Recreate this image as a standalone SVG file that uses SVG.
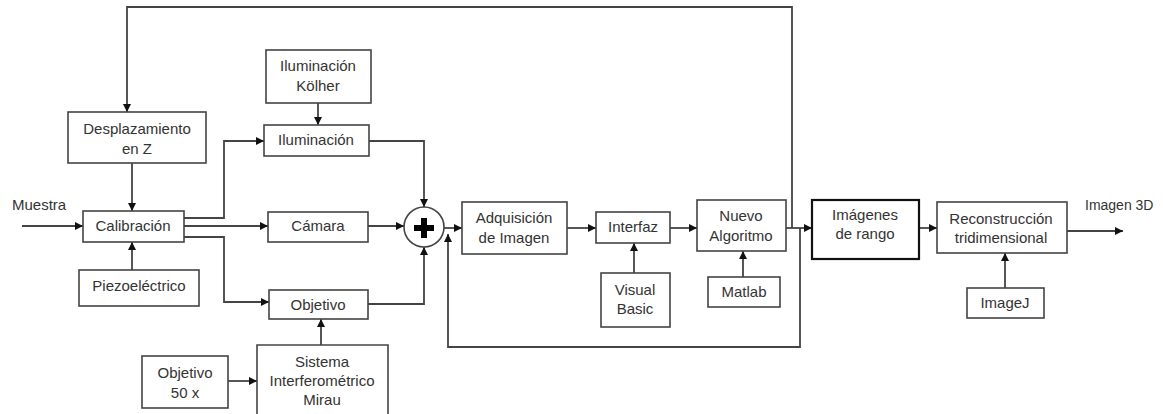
<svg xmlns="http://www.w3.org/2000/svg" width="1163" height="414" viewBox="0 0 1163 414">
<style>
.box{fill:#fff;stroke:#444;stroke-width:1.6}
.bold{fill:#fff;stroke:#111;stroke-width:2.2}
.t{font-family:"Liberation Sans",Arial,sans-serif;font-size:15px;fill:#333;text-anchor:middle}
.ts{font-family:"Liberation Sans",Arial,sans-serif;font-size:15px;fill:#333}
.c{fill:none;stroke:#444;stroke-width:1.8;marker-end:url(#ah)}
</style>
<defs>
<marker id="ah" markerUnits="userSpaceOnUse" markerWidth="9" markerHeight="8" refX="8" refY="4" orient="auto">
<path d="M0,0 L8,4 L0,8 z" fill="#111"/>
</marker>
</defs>
<rect width="1163" height="414" fill="#fff"/>
<g id="connectors">
<path class="c" d="M792,228 V7 H127 V112"/>
<path class="c" d="M132,163 V211"/>
<path class="c" d="M22,226 H83"/>
<path class="c" d="M184,218 H224 V141 H264"/>
<path class="c" d="M184,226 H268"/>
<path class="c" d="M184,237 H224 V302 H269"/>
<path class="c" d="M132,270 V242"/>
<path class="c" d="M318,103 V125"/>
<path class="c" d="M369,141 H424 V207"/>
<path class="c" d="M368,226 H404"/>
<path class="c" d="M368,304 H424 V247"/>
<path class="c" d="M321,345 V319"/>
<path class="c" d="M228,381 H257"/>
<path class="c" d="M444,228 H462"/>
<path class="c" d="M800,228 V347 H448 V234"/>
<path class="c" d="M567,228 H596"/>
<path class="c" d="M670,228 H697"/>
<path class="c" d="M634,273 V243"/>
<path class="c" d="M743,277 V251"/>
<path class="c" d="M786,228 H812"/>
<path class="c" d="M919,228 H937"/>
<path class="c" d="M1067,231 H1123"/>
<path class="c" d="M1005,288 V253"/>
</g>
<g id="muestra"><text class="ts" x="12" y="210">Muestra</text></g>
<g id="imagen3d"><text class="ts" x="1085" y="210" style="font-size:14px">Imagen 3D</text></g>
<g id="desplazamiento"><rect class="box" x="68" y="112" width="138" height="51"/><text class="t" x="137" y="134">Desplazamiento</text><text class="t" x="137" y="154">en Z</text></g>
<g id="kolher"><rect class="box" x="266" y="50" width="105" height="53"/><text class="t" x="318" y="71">Iluminación</text><text class="t" x="318" y="91">Kölher</text></g>
<g id="iluminacion"><rect class="box" x="264" y="125" width="105" height="31"/><text class="t" x="316" y="145">Iluminación</text></g>
<g id="calibracion"><rect class="box" x="83" y="211" width="101" height="31"/><text class="t" x="133" y="231">Calibración</text></g>
<g id="camara"><rect class="box" x="268" y="212" width="100" height="30"/><text class="t" x="318" y="231">Cámara</text></g>
<g id="piezo"><rect class="box" x="79" y="270" width="120" height="36"/><text class="t" x="139" y="291">Piezoeléctrico</text></g>
<g id="objetivo"><rect class="box" x="269" y="290" width="99" height="29"/><text class="t" x="318" y="310">Objetivo</text></g>
<g id="sistema"><path class="box" d="M257,416 V345 H388 V416"/><text class="t" x="322" y="367">Sistema</text><text class="t" x="322" y="386">Interferométrico</text><text class="t" x="322" y="405">Mirau</text></g>
<g id="objetivo50"><rect class="box" x="142" y="356" width="86" height="52"/><text class="t" x="185" y="378">Objetivo</text><text class="t" x="185" y="398">50 x</text></g>
<g id="suma"><circle cx="424" cy="227" r="20" fill="#fff" stroke="#444" stroke-width="1.6"/><path d="M414,228 H434 M424,218 V238" stroke="#000" stroke-width="6"/></g>
<g id="adquisicion"><rect class="box" x="462" y="202" width="105" height="52"/><text class="t" x="514" y="223">Adquisición</text><text class="t" x="514" y="243">de Imagen</text></g>
<g id="interfaz"><rect class="box" x="596" y="212" width="74" height="31"/><text class="t" x="633" y="232">Interfaz</text></g>
<g id="nuevo"><rect class="box" x="697" y="200" width="89" height="51"/><text class="t" x="741" y="221">Nuevo</text><text class="t" x="741" y="241">Algoritmo</text></g>
<g id="visualbasic"><rect class="box" x="601" y="273" width="69" height="54"/><text class="t" x="635" y="295">Visual</text><text class="t" x="635" y="314">Basic</text></g>
<g id="matlab"><rect class="box" x="708" y="277" width="72" height="30"/><text class="t" x="744" y="297">Matlab</text></g>
<g id="imagenes"><rect class="bold" x="812" y="200" width="107" height="59"/><text class="t" x="865" y="220">Imágenes</text><text class="t" x="865" y="239">de rango</text></g>
<g id="reconstruccion"><rect class="box" x="937" y="202" width="130" height="51"/><text class="t" x="1001" y="224">Reconstrucción</text><text class="t" x="1001" y="243">tridimensional</text></g>
<g id="imagej"><rect class="box" x="967" y="288" width="77" height="30"/><text class="t" x="1005" y="308">ImageJ</text></g>
</svg>
